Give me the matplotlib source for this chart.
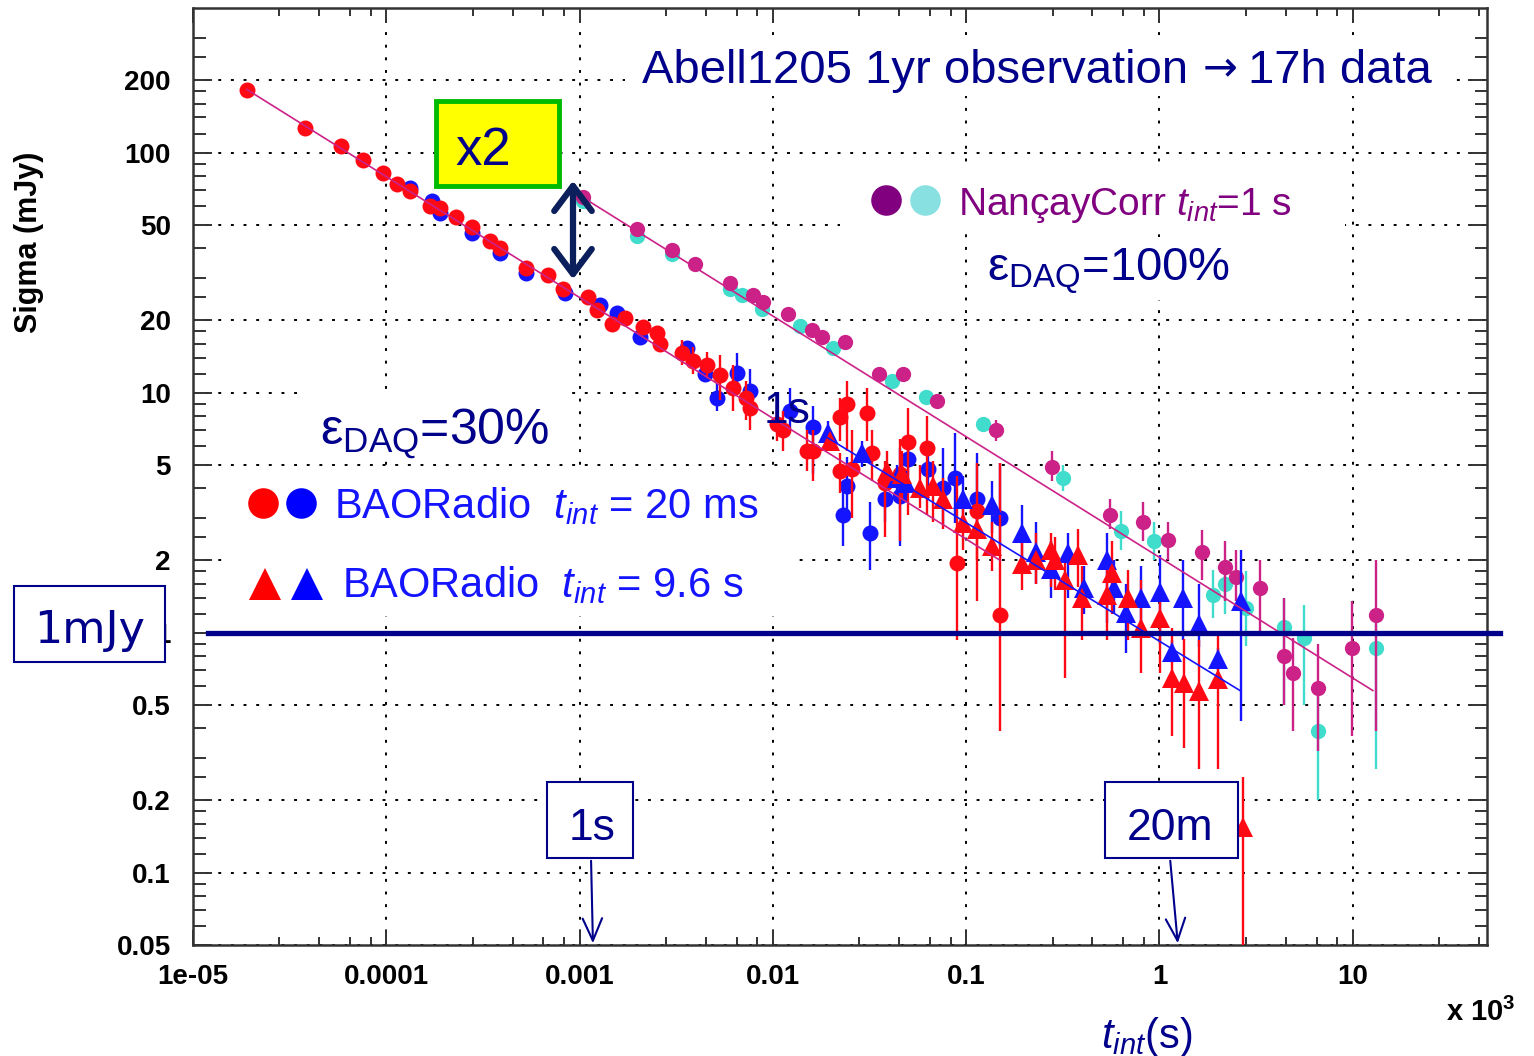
import numpy as np
import matplotlib
matplotlib.use('Agg')
from matplotlib import pyplot as plt
from matplotlib.lines import Line2D
from matplotlib.patches import Rectangle, FancyArrowPatch
from matplotlib.ticker import FixedLocator, FixedFormatter, LogLocator, NullFormatter

plt.rcParams['font.family'] = ['Liberation Sans', 'DejaVu Sans']
plt.rcParams['mathtext.fontset'] = 'custom'
plt.rcParams['mathtext.rm'] = 'Liberation Sans'
plt.rcParams['mathtext.it'] = 'Liberation Sans:italic'
plt.rcParams['mathtext.bf'] = 'Liberation Sans:bold'

# ---------------- data : x in units of 10^3 s, sigma in mJy ----------------
# BAORadio t_int = 20 ms (red circles)
red_x = [1.9e-5, 3.8e-5, 5.8e-5, 7.6e-5, 9.6e-5, 1.14e-4, 1.33e-4, 1.68e-4, 1.9e-4, 2.3e-4,
         2.78e-4, 3.44e-4, 3.87e-4, 5.3e-4, 6.9e-4, 8.2e-4, 1.1e-3, 1.23e-3, 1.47e-3, 1.72e-3,
         2.13e-3, 2.51e-3, 2.6e-3, 3.39e-3, 3.86e-3, 4.56e-3, 5.3e-3, 6.2e-3, 7.3e-3, 7.6e-3,
         0.0105, 0.0113, 0.015, 0.0161, 0.0222, 0.0222, 0.0242, 0.0257, 0.0307, 0.0326,
         0.038, 0.0455, 0.050, 0.0627, 0.0896, 0.114, 0.150]
red_y = [183, 127, 106, 93, 82, 74, 69, 60, 59, 54,
         49, 43, 40, 33, 31, 27, 25, 22, 19.4, 20.4,
         18.7, 17.7, 16.0, 14.6, 13.6, 13.0, 11.8, 10.5, 9.5, 8.6,
         7.4, 7.0, 5.7, 5.7, 4.7, 7.9, 9.0, 4.8, 8.2, 5.6,
         4.2, 4.6, 6.2, 5.9, 1.96, 3.2, 1.18]
red_bar_x = [3.39e-3, 3.86e-3, 4.56e-3, 5.3e-3, 6.2e-3, 7.3e-3, 7.6e-3, 0.0105, 0.0113, 0.015,
             0.0161, 0.0222, 0.0222, 0.0242, 0.0257, 0.0307, 0.0326, 0.038, 0.0455, 0.050,
             0.0627, 0.0896, 0.114, 0.150]
red_bar_lo = [13.0, 12.0, 11.5, 9.3, 8.4, 7.7, 7.0, 6.3, 5.7, 4.7,
              4.3, 3.8, 6.3, 5.7, 3.0, 6.3, 4.3, 2.5, 2.4, 3.1,
              3.1, 0.93, 1.36, 0.39]
red_bar_hi = [16.5, 15.5, 14.8, 14.3, 13.0, 11.2, 10.0, 8.7, 8.4, 7.0,
              7.0, 5.6, 9.5, 11.2, 7.0, 10.5, 7.0, 5.2, 6.4, 8.6,
              8.0, 4.5, 5.1, 5.1]

# BAORadio t_int = 20 ms (blue circles)
blue_x = [1.33e-4, 1.72e-4, 1.9e-4, 2.78e-4, 3.87e-4, 5.3e-4, 8.4e-4, 1.28e-3, 1.56e-3, 2.05e-3,
          3.6e-3, 4.45e-3, 5.14e-3, 6.5e-3, 7.6e-3, 0.0122, 0.0161, 0.0231, 0.0242, 0.0318,
          0.038, 0.0455, 0.050, 0.0634, 0.0759, 0.0875, 0.114, 0.150]
blue_y = [71, 63, 56, 46, 38, 31.4, 25.9, 23.1, 21.4, 17.0,
          15.4, 12.0, 9.5, 12.1, 10.2, 8.4, 7.2, 3.1, 4.1, 2.6,
          3.6, 3.7, 5.3, 4.8, 4.0, 4.4, 3.6, 3.0]
blue_bar_x = [5.14e-3, 6.5e-3, 7.6e-3, 0.0122, 0.0161, 0.0231, 0.0242, 0.0318, 0.038, 0.0455,
              0.050, 0.0634, 0.0759, 0.0875, 0.114, 0.150]
blue_bar_lo = [8.4, 10.2, 8.4, 6.9, 4.6, 2.3, 3.0, 1.82, 2.9, 2.3,
               4.3, 3.6, 2.8, 2.85, 2.7, 2.3]
blue_bar_hi = [11.0, 14.6, 12.5, 10.5, 8.8, 4.0, 5.4, 3.5, 4.3, 5.9,
               6.3, 6.3, 5.9, 6.8, 5.6, 5.1]

# BAORadio t_int = 9.6 s (red triangles)
rtri_x = [0.0197, 0.0389, 0.0466, 0.0577, 0.0673, 0.0759, 0.0962, 0.114, 0.136, 0.194,
          0.230, 0.275, 0.288, 0.379, 0.324, 0.397, 0.535, 0.568, 0.687, 0.802,
          1.007, 1.16, 1.34, 1.60, 2.01, 2.70]
rtri_y = [6.3, 4.7, 4.6, 4.0, 4.1, 3.6, 2.85, 2.7, 2.3, 1.94,
          2.0, 2.2, 2.0, 2.1, 1.65, 1.39, 1.43, 1.77, 1.39, 1.05,
          1.15, 0.65, 0.62, 0.57, 0.64, 0.155]
rtri_lo = [5.7, 3.9, 3.6, 3.3, 2.9, 2.7, 2.2, 2.0, 1.8, 1.5,
           1.6, 1.55, 1.5, 1.55, 0.65, 0.93, 0.93, 1.2, 0.93, 0.68,
           0.68, 0.37, 0.33, 0.27, 0.27, 0.02]
rtri_hi = [7.0, 5.7, 5.7, 5.0, 5.2, 4.4, 3.6, 3.4, 2.9, 2.4,
           2.6, 2.6, 2.5, 2.7, 2.0, 1.9, 2.0, 2.4, 1.82, 1.65,
           1.36, 1.05, 0.94, 0.93, 1.0, 0.25]

# BAORadio t_int = 9.6 s (blue triangles)
btri_x = [0.0193, 0.0289, 0.0438, 0.049, 0.0962, 0.136, 0.194, 0.230, 0.275, 0.336,
          0.407, 0.535, 0.582, 0.671, 0.802, 1.007, 1.32, 1.60, 1.16, 2.01, 2.64]
btri_y = [6.8, 5.6, 4.4, 4.2, 3.6, 3.4, 2.6, 2.16, 1.85, 2.14,
          1.54, 2.0, 1.54, 1.21, 1.39, 1.47, 1.39, 1.09, 0.83, 0.78, 1.36]
btri_lo = [6.0, 4.9, 3.9, 3.7, 2.9, 2.6, 1.9, 1.6, 1.4, 1.4,
           1.2, 1.1, 1.2, 0.82, 1.0, 0.9, 0.93, 0.87, 0.75, 0.70, 0.43]
btri_hi = [7.6, 6.3, 5.0, 4.7, 4.5, 4.3, 3.4, 2.9, 2.4, 2.6,
           1.9, 2.6, 2.0, 1.6, 1.9, 2.1, 2.0, 1.6, 0.93, 0.86, 2.2]

# NancayCorr t_int = 1 s (magenta)
mag_x = [1.04e-3, 1.98e-3, 3.0e-3, 3.95e-3, 6.0e-3, 7.9e-3, 8.9e-3, 0.0120, 0.0159, 0.018,
         0.0236, 0.0354, 0.0471, 0.0706, 0.143, 0.278, 0.555, 0.822, 1.11, 1.66,
         2.18, 2.49, 3.31, 4.41, 4.91, 6.61, 9.9, 13.2]
mag_y = [65, 47.9, 39.2, 34.2, 28.5, 25.4, 23.8, 21.2, 18.3, 17.1,
         16.2, 12.0, 11.9, 9.2, 7.0, 4.9, 3.1, 2.9, 2.44, 2.16,
         1.87, 1.70, 1.53, 0.80, 0.68, 0.59, 0.86, 1.18]
mag_bar_x = [0.143, 0.278, 0.555, 0.822, 1.11, 1.66, 2.18, 2.49, 3.31, 4.41, 4.91, 6.61, 9.9, 13.2]
mag_bar_lo = [6.3, 4.3, 2.7, 2.4, 2.0, 1.65, 1.36, 1.36, 1.0, 0.5, 0.39, 0.32, 0.37, 0.39]
mag_bar_hi = [7.7, 5.7, 3.6, 3.5, 2.9, 2.67, 2.4, 2.2, 2.0, 1.4, 0.95, 0.90, 1.36, 2.0]

# NancayCorr t_int = 1 s (cyan)
cyan_x = [1.04e-3, 1.98e-3, 3.0e-3, 6.0e-3, 6.9e-3, 8.8e-3, 0.0138, 0.0205, 0.0413, 0.0619,
          0.122, 0.317, 0.632, 0.937, 1.89, 2.18, 2.80, 4.41, 5.6, 6.61, 13.2]
cyan_y = [63, 45, 37.7, 26.9, 25.4, 22.4, 18.9, 15.4, 11.2, 9.6,
          7.4, 4.4, 2.64, 2.40, 1.43, 1.59, 1.27, 1.06, 0.95, 0.39, 0.86]
cyan_bar_x = [0.317, 0.632, 0.937, 1.89, 2.18, 2.80, 4.41, 5.6, 6.61, 13.2]
cyan_bar_lo = [3.9, 2.2, 2.0, 1.15, 1.2, 0.88, 0.5, 0.5, 0.2, 0.27]
cyan_bar_hi = [5.0, 3.2, 2.9, 1.82, 2.0, 1.8, 1.4, 1.3, 0.6, 1.2]

# fitted lines (end points)
fit20ms_x, fit20ms_y = [1.9e-5, 0.15], [183, 2.0]
fit96s_x, fit96s_y = [0.0191, 2.61], [6.5, 0.574]
fitnan_x, fitnan_y = [1.04e-3, 12.7], [65, 0.574]

# 1 mJy reference line
mjy_x, mjy_y = [1.2e-5, 57.7], [1.0, 1.0]

yticks = [0.05, 0.1, 0.2, 0.5, 1, 2, 5, 10, 20, 50, 100, 200]
ytick_labels = ['0.05', '0.1', '0.2', '0.5', '1', '2', '5', '10', '20', '50', '100', '200']
yminor = [0.06, 0.07, 0.08, 0.09, 0.12, 0.14, 0.16, 0.18, 0.25, 0.3, 0.4,
          0.6, 0.7, 0.8, 0.9, 1.2, 1.4, 1.6, 1.8, 2.5, 3, 4,
          6, 7, 8, 9, 12, 14, 16, 18, 25, 30, 40,
          60, 70, 80, 90, 120, 140, 160, 180, 250, 300]
xticks = [1e-5, 1e-4, 1e-3, 1e-2, 0.1, 1, 10]
xtick_labels = ['1e-05', '0.0001', '0.001', '0.01', '0.1', '1', '10']

RED = '#ff0a14'
BLUE = '#1414ff'
MAG = '#cc2288'
CYAN = '#40dccc'
NAVY = '#00008b'
EPS = '\u03b5'

W, H = 1534, 1056
fig = plt.figure(figsize=(W / 100, H / 100), dpi=100)
ax = fig.add_axes([193 / W, 1 - 945 / H, (1487 - 193) / W, (945 - 8) / H])
ax.set_xscale('log')
ax.set_yscale('log')
ax.set_xlim(1e-5, 49.5)
ax.set_ylim(0.05, 400)


def fx(px):
    return px / W


def fy(py):
    return 1 - py / H


# white text-box backgrounds hiding the grid (slide overlays)
for (x0, y0, x1, y1) in [(625, 40, 1450, 96), (840, 163, 1345, 230), (975, 237, 1245, 300),
                         (300, 392, 567, 460), (225, 468, 790, 616)]:
    ax.add_patch(Rectangle((fx(x0), fy(y1)), (x1 - x0) / W, (y1 - y0) / H, transform=fig.transFigure,
                           fc='white', ec='none', zorder=2))

# error bars
ax.vlines(blue_bar_x, blue_bar_lo, blue_bar_hi, color=BLUE, lw=1.7, zorder=3)
ax.vlines(red_bar_x, red_bar_lo, red_bar_hi, color=RED, lw=1.7, zorder=4)
ax.vlines(btri_x, btri_lo, btri_hi, color=BLUE, lw=1.7, zorder=5)
ax.vlines(rtri_x, rtri_lo, rtri_hi, color=RED, lw=1.7, zorder=5)
ax.vlines(cyan_bar_x, cyan_bar_lo, cyan_bar_hi, color=CYAN, lw=1.7, zorder=3)
ax.vlines(mag_bar_x, mag_bar_lo, mag_bar_hi, color=MAG, lw=1.7, zorder=4)

# points
ax.plot(blue_x, blue_y, 'o', color=BLUE, ms=11.5, mew=0, zorder=3)
ax.plot(red_x, red_y, 'o', color=RED, ms=11.5, mew=0, zorder=4)
ax.plot(btri_x, btri_y, '^', color=BLUE, ms=15, mew=0, zorder=5)
ax.plot(rtri_x, rtri_y, '^', color=RED, ms=15, mew=0, zorder=5)
ax.plot(cyan_x, cyan_y, 'o', color=CYAN, ms=11, mew=0, zorder=3)
ax.plot(mag_x, mag_y, 'o', color=MAG, ms=11, mew=0, zorder=4)

# fits
ax.plot(fit20ms_x, fit20ms_y, color=MAG, lw=1.2, zorder=6)
ax.plot(fit96s_x, fit96s_y, color=BLUE, lw=1.2, zorder=6)
ax.plot(fitnan_x, fitnan_y, color=MAG, lw=1.2, zorder=6)
ax.plot(mjy_x, mjy_y, color=NAVY, lw=3.8, clip_on=False, zorder=7)

# axes cosmetics (ROOT look)
ax.yaxis.set_major_locator(FixedLocator(yticks))
ax.yaxis.set_major_formatter(FixedFormatter(ytick_labels))
ax.yaxis.set_minor_locator(FixedLocator(yminor))
ax.yaxis.set_minor_formatter(NullFormatter())
ax.xaxis.set_major_locator(FixedLocator(xticks))
ax.xaxis.set_major_formatter(FixedFormatter(xtick_labels))
ax.xaxis.set_minor_locator(LogLocator(base=10, subs=(2.8, 4.5, 6.5, 8.3), numticks=20))
ax.xaxis.set_minor_formatter(NullFormatter())
ax.tick_params(which='both', direction='in', top=True, right=True, width=1.4, color='#333333')
ax.tick_params(axis='x', which='major', length=11)
ax.tick_params(axis='x', which='minor', length=6)
ax.tick_params(axis='y', which='major', length=14)
ax.tick_params(axis='y', which='minor', length=9)
ax.tick_params(axis='x', pad=14, labelsize=20)
ax.tick_params(axis='y', pad=16, labelsize=20)
for lab in ax.get_xticklabels() + ax.get_yticklabels():
    lab.set_fontweight('bold')
ax.grid(True, which='major', color='black', linestyle=(0, (1.5, 5)), lw=1.4)
for sp in ax.spines.values():
    sp.set_linewidth(1.8)
    sp.set_color('#333333')

# axis titles
fig.text(fx(29), fy(242), 'Sigma (mJy)', rotation=90, ha='center', va='center',
         fontsize=22, fontweight='bold')
fig.text(fx(1147), fy(1048), r'$t_{int}$(s)', ha='center', va='baseline', fontsize=30, color=NAVY)
fig.text(fx(1446), fy(1021), r'x 10$^{\mathbf{3}}$', ha='left', va='baseline',
         fontsize=21, fontweight='bold')

# headline and labels
fig.text(fx(1188), fy(83), 'Abell1205 1yr observation', ha='right', va='baseline',
         fontsize=34, color=NAVY)
fig.text(fx(1220), fy(80), '\u2192', ha='center', va='baseline', fontsize=30, color=NAVY,
         family='DejaVu Sans')
fig.text(fx(1248), fy(83), '17h data', ha='left', va='baseline', fontsize=34, color=NAVY)
fig.text(fx(958), fy(215), 'Nançay' + 'Corr ' + r'$t_{int}$=1 s', ha='left', va='baseline',
         fontsize=28, color='#800080')
fig.text(fx(987), fy(280), '$\\mathrm{' + EPS + '}_{\\mathrm{DAQ}}$=100%', ha='left', va='baseline',
         fontsize=34, color=NAVY)
fig.text(fx(320), fy(445), '$\\mathrm{' + EPS + '}_{\\mathrm{DAQ}}$=30%', ha='left', va='baseline',
         fontsize=36, color=NAVY)
fig.text(fx(334), fy(518), r'BAORadio  $t_{int}$ = 20 ms', ha='left', va='baseline',
         fontsize=30, color=BLUE)
fig.text(fx(342), fy(597), r'BAORadio  $t_{int}$ = 9.6 s', ha='left', va='baseline',
         fontsize=30, color=BLUE)
fig.text(fx(787), fy(423), '1s', ha='center', va='baseline', fontsize=32, color=NAVY, zorder=20)

# legend keys
for (kx, ky, mk, col, ms) in [(263, 503, 'o', '#ff0000', 22), (301, 503, 'o', '#0000ff', 22),
                              (265, 584, '^', '#ff0000', 23), (307, 584, '^', '#0000ff', 23),
                              (886, 200, 'o', '#800080', 22), (925, 200, 'o', '#88e0e0', 22)]:
    fig.add_artist(Line2D([fx(kx)], [fy(ky)], marker=mk, color=col, ms=ms, mew=0,
                          transform=fig.transFigure))

# x2 box and double arrow
fig.add_artist(Rectangle((fx(436), fy(186)), (559 - 436) / W, (186 - 101) / H, transform=fig.transFigure,
                         fc='#ffff00', ec='#00bb00', lw=3.5, zorder=10))
fig.text(fx(483), fy(165), 'x2', ha='center', va='baseline', fontsize=38, color=NAVY, zorder=11)
fig.add_artist(FancyArrowPatch((fx(573), fy(282)), (fx(573), fy(178)), transform=fig.transFigure,
                               arrowstyle='<->,head_length=0.6,head_width=0.45', mutation_scale=30,
                               lw=4.5, color='#0b1f5c', zorder=10))

# boxed labels
for (x0, y0, x1, y1, txt, fs, fam, tx, ty) in [(14, 586, 165, 662, '1mJy', 32, 'DejaVu Sans', 90, 643),
                                             (547, 782, 633, 858, '1s', 32, 'Liberation Sans', 592, 840),
                                             (1105, 782, 1238, 858, '20m', 32, 'Liberation Sans', 1170, 840)]:
    fig.add_artist(Rectangle((fx(x0), fy(y1)), (x1 - x0) / W, (y1 - y0) / H, transform=fig.transFigure,
                             fc='white', ec=NAVY, lw=1.5, zorder=10))
    fig.text(fx(tx), fy(ty), txt, ha='center', va='baseline', fontsize=fs, family=fam,
             color=NAVY, zorder=11)

for (xa, ya, xb, yb) in [(591, 858, 593, 946), (1170, 858, 1178, 946)]:
    fig.add_artist(FancyArrowPatch((fx(xa), fy(ya)), (fx(xb), fy(yb)), transform=fig.transFigure,
                                   arrowstyle='->,head_length=0.8,head_width=0.35', mutation_scale=20,
                                   lw=1.5, color=NAVY, zorder=10))

fig.savefig('out.png', dpi=100)
plt.close('all')
